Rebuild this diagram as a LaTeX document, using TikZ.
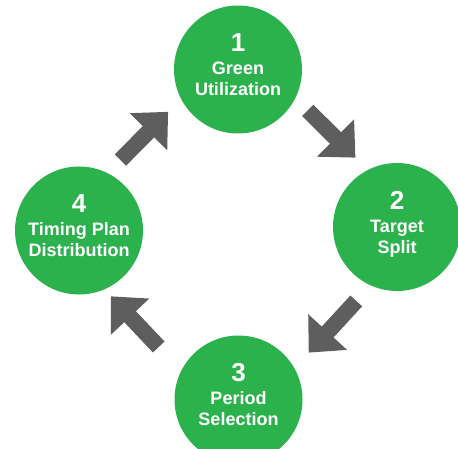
\documentclass[tikz,border=0pt]{standalone}
\usepackage{fontspec}
\setmainfont{Liberation Sans}
\usetikzlibrary{arrows.meta,calc}

\definecolor{stagegreen}{RGB}{43,178,76}
\definecolor{arrowgray}{RGB}{94,94,94}
\newcommand{\stagenum}[1]{{\fontsize{26}{26}\selectfont #1}}

\begin{document}
\begin{tikzpicture}[x=1pt,y=1pt,
    stage/.style={circle,fill=stagegreen,minimum size=128pt,inner sep=0pt,
      text=white,align=center,font=\fontsize{18}{21}\selectfont\bfseries,
      text height=62pt,text depth=10pt},
    flow/.style={draw=arrowgray,line width=16pt,
      -{Triangle[width=51pt,length=28pt]}}]
    \useasboundingbox (0,0) rectangle (458,448);

    % The four stages of the cycle
    \node[stage] (c1) at (238,378.5) {\stagenum{1}\\[2pt]Green\\Utilization};
    \node[stage] (c2) at (397,221) {\stagenum{2}\\[2pt]Target\\Split};
    \node[stage] (c3) at (238.5,48.5) {\stagenum{3}\\[2pt]Period\\Selection};
    \node[stage] (c4) at (79,217.5) {\stagenum{4}\\[2pt]Timing Plan\\Distribution};

    % Arrows between the stages, pushed a little outwards
    \draw[flow] ($(c4)!0.35!(c1)!20pt!90:(c1)$) -- ($(c4)!0.65!(c1)!20pt!90:(c1)$);
    \draw[flow] ($(c1)!0.35!(c2)!20pt!90:(c2)$) -- ($(c1)!0.65!(c2)!20pt!90:(c2)$);
    \draw[flow] ($(c2)!0.35!(c3)!20pt!90:(c3)$) -- ($(c2)!0.65!(c3)!20pt!90:(c3)$);
    \draw[flow] ($(c3)!0.40!(c4)!22pt!90:(c4)$) -- ($(c3)!0.70!(c4)!22pt!90:(c4)$);
\end{tikzpicture}
\end{document}
